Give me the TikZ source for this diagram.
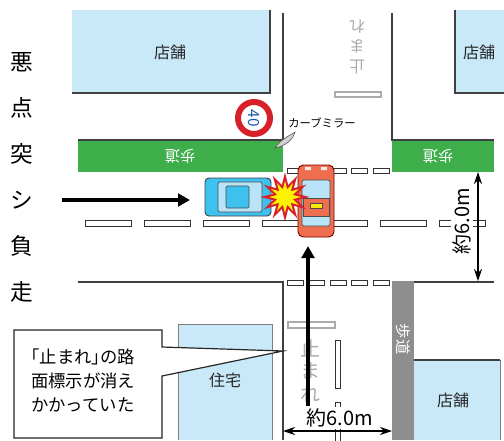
\documentclass[tikz,border=0pt]{standalone}
\usepackage{fontspec}
\setmainfont{Noto Sans CJK JP}
\usepackage{xcolor}
\usetikzlibrary{arrows.meta, shapes.geometric}

\definecolor{shopblue}{HTML}{C9E9F8}
\definecolor{walkgreen}{HTML}{3DAE4A}
\definecolor{walkgray}{HTML}{8E8E90}
\definecolor{roadline}{HTML}{404040}
\definecolor{carblue}{HTML}{3EC1EE}
\definecolor{glass}{HTML}{B9E3F7}
\definecolor{carred}{HTML}{EF6E50}
\definecolor{signred}{HTML}{D8202A}
\definecolor{signblue}{HTML}{1F5BB0}
\definecolor{paint}{HTML}{ABABAB}

\begin{document}
\begin{tikzpicture}[x=0.75pt, y=-0.75pt,
  shop/.style={fill=shopblue},
  kerb/.style={draw=roadline, line width=1pt},
  walk/.style={fill=walkgreen},
  walktext/.style={text=white, font=\fontsize{11.5}{12}\selectfont},
  lane/.style={draw=black!80, fill=white, line width=0.6pt},
  stopbar/.style={draw=paint, fill=white, line width=0.9pt},
  painttext/.style={text=paint, align=center, inner sep=0},
  shoptext/.style={font=\fontsize{12}{14}\selectfont, text=black!85},
  sidetext/.style={font=\fontsize{17}{17}\selectfont, anchor=east, inner sep=0},
  glassbox/.style={draw=black!70, fill=glass, line width=0.5pt, rounded corners=1.5pt},
  arr/.style={-{Triangle[length=9pt, width=9.5pt]}, line width=2.8pt},
  dim/.style={{Stealth[length=9pt, width=6pt]}-{Stealth[length=9pt, width=6pt]}, line width=0.8pt},
  dimtext/.style={font=\fontsize{15}{15}\selectfont, fill=white, inner sep=1pt}
]
  \useasboundingbox (0,0) rectangle (504,440);

  % buildings
  \fill[shop] (72,10) rectangle (270,93);
  \draw[kerb] (72,93) -- (270,93) -- (270,10);
  \fill[shop] (455,10) rectangle (504,93);
  \draw[kerb] (455,10) -- (455,93) -- (504,93);
  \fill[shop] (178,324) rectangle (272,440);
  \draw[gray, line width=0.6pt] (178,440) -- (178,324) -- (272,324) -- (272,440);
  \fill[shop] (414,360) rectangle (500,440);
  \draw[kerb] (414,360) -- (500,360);
  \draw[gray, line width=0.6pt] (500,360) -- (500,440);

  \node[shoptext] (shopNW) at (170,52) {店舗};
  \node[shoptext] (shopNE) at (479,52) {店舗};
  \node[shoptext] (house) at (225,380) {住宅};
  \node[shoptext] (shopSE) at (453,400) {店舗};

  % sidewalks and road edges
  \fill[walk] (78,140) rectangle (283,172);
  \draw[kerb] (78,140) -- (283,140) -- (283,13);
  \fill[walk] (392,140) rectangle (494,172);
  \draw[kerb] (392,13) -- (392,140) -- (494,140);
  \draw[kerb] (78,282) -- (283,282) -- (283,440);
  \fill[walkgray] (392,281) rectangle (414,440);
  \draw[kerb] (414,282) -- (494,282);

  \node[walktext, rotate=180] (walkW) at (180,156) {歩道};
  \node[walktext, rotate=180] (walkE) at (438,156) {歩道};
  \node[walktext, rotate=-90] (walkS) at (403,339) {歩道};

  % lane markings
  \foreach \x in {85,144,...,439}
    \draw[lane] (\x,220) rectangle ++(46,6);
  \foreach \x in {287,308.5,...,380} {
    \draw[lane] (\x,168) rectangle ++(16,5);
    \draw[lane] (\x,280) rectangle ++(16,5);
  }
  \draw[lane] (335,340) rectangle (340,388);
  \draw[lane] (335,402) rectangle (340,450);
  \draw[stopbar] (335,92) rectangle (381,97);
  \draw[stopbar] (288,322) rectangle (335,328);

  \node[painttext, font=\fontsize{12}{15}\selectfont, rotate=180] (stopN) at (357,47) {止\\ま\\れ};
  \node[painttext, font=\fontsize{15}{17}\selectfont] (stopS) at (310,371) {止\\ま\\れ};

  % speed sign and mirror
  \node[circle, draw=signred, line width=4.5pt, fill=white, minimum size=24pt, inner sep=0] (sign) at (254,118) {};
  \node[text=signblue, rotate=-90, font=\fontsize{11.5}{12}\selectfont, inner sep=0] (limit) at (sign) {40};
  \draw[fill=gray!35, draw=gray!60!black, line width=0.4pt] (275,148) .. controls (281,139) and (289,136) .. (295,132) .. controls (293,140) and (285,146) .. cycle;
  \node[font=\fontsize{8.5}{9}\selectfont] (mirror) at (322,123) {カーブミラー};

  % blue car
  \node[draw=black!75, fill=carblue, rounded corners=3pt, line width=0.7pt, minimum width=49.5pt, minimum height=28.5pt, inner sep=0] (bluecar) at (238,197) {};
  \draw[glassbox] (218,182) rectangle (262,212);
  \draw[draw=black!70, fill=carblue, line width=0.5pt, rounded corners=1pt] (226,186) rectangle (249,208);

  % red car
  \node[draw=red!45!black, fill=carred, rounded corners=4pt, line width=0.7pt, minimum width=27pt, minimum height=54pt, inner sep=0] (redcar) at (316,201) {};
  \draw[glassbox] (302,180) rectangle (330,226);
  \draw[draw=black!70, fill=carred, line width=0.5pt] (303,198) rectangle (329,216);
  \draw[fill=yellow!90!orange, draw=black!70, line width=0.4pt] (310,203) rectangle (322,208);
  \fill[white!85!gray] (305,167) rectangle (311,170) (321,167) rectangle (327,170);

  % crash
  \node[star, star points=12, star point ratio=2, fill=signred, inner sep=0, minimum size=37pt] (crash) at (285,197) {};
  \node[star, star points=12, star point ratio=2, fill=yellow, inner sep=0, minimum size=24pt] (crashcore) at (crash) {};

  % travel arrows
  \coordinate (westfrom) at (62,200);
  \coordinate (westto) at (190,200);
  \draw[arr] (westfrom) -- (westto);
  \coordinate (southfrom) at (308,406);
  \coordinate (southto) at (308,246);
  \draw[arr] (southfrom) -- (southto);

  % widths
  \node[dimtext, rotate=90] (widthE) at (462,221) {約6.0m};
  \coordinate (dimEtop) at (478,172);
  \coordinate (dimEbot) at (478,281);
  \draw[dim] (dimEtop) -- (dimEbot);
  \node[dimtext] (widthS) at (340,418) {約6.0m};
  \coordinate (dimSleft) at (283,431);
  \coordinate (dimSright) at (392,431);
  \draw[dim] (dimSleft) -- (dimSright);

  % text on the left
  \foreach \ch [count=\i from 0] in {悪,点,突,シ,負,走}
    \node[sidetext] (side\i) at (33,{62+46*\i}) {\ch};

  % callout
  \coordinate (calltip) at (283,351);
  \draw[fill=white, draw=black!85, line width=0.9pt] (14,330) -- (162,330) -- (162,347) -- (calltip) -- (162,376) -- (162,438) -- (14,438) -- cycle;
  \node[anchor=north west, align=left, font=\fontsize{13}{18}\selectfont, inner sep=0] (note) at (31,349)
    {{\addfontfeature{RawFeature=+halt}「}止まれ{\addfontfeature{RawFeature=+halt}」}の路\\面標示が消え\\かかっていた};
\end{tikzpicture}
\end{document}
